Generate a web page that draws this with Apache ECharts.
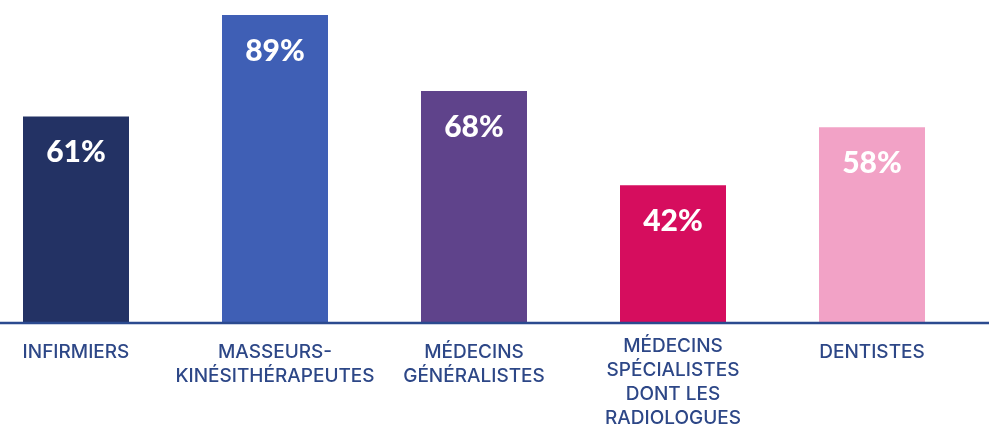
<!DOCTYPE html>
<html><head><meta charset="utf-8">
<script src="https://cdn.jsdelivr.net/npm/echarts@6/dist/echarts.min.js"></script>
<style>html,body{margin:0;padding:0;background:#fff}#c{width:989px;height:428px}</style>
</head><body><div id="c"></div>
<script>
const categories = ['INFIRMIERS', 'MASSEURS-\nKINÉSITHÉRAPEUTES', 'MÉDECINS\nGÉNÉRALISTES', 'MÉDECINS\nSPÉCIALISTES\nDONT LES\nRADIOLOGUES', 'DENTISTES'];
const values = [61, 89, 68, 42, 58];
const colors = ['#233264', '#3f5fb5', '#5f438b', '#d60d5e', '#f2a2c6'];

const chart = echarts.init(document.getElementById('c'));
chart.setOption({
  animation: false,
  grid: { left: -23.5, right: 17.5, top: 15, bottom: 105, containLabel: false, outerBoundsMode: 'none' },
  xAxis: {
    type: 'category',
    data: categories.map(c => c.split('\n').length > 3
      ? { value: c, textStyle: { lineHeight: 24, padding: [-6, 0, 0, 0] } }
      : c),
    axisLine: { show: false },
    axisTick: { show: false },
    axisLabel: {
      interval: 0, color: '#2d4787', fontFamily: 'Inter', fontWeight: 500,
      fontSize: 19, lineHeight: 24, margin: 17, hideOverlap: false
    }
  },
  yAxis: { type: 'value', min: 4, max: 89, show: false, splitLine: { show: false } },
  series: [{
    type: 'bar',
    barWidth: 106,
    data: values.map((v, i) => ({ value: v, itemStyle: { color: colors[i] } })),
    label: {
      show: true, position: 'insideTop', distance: 21,
      formatter: '{c}%', color: '#fff', fontFamily: 'Lato', fontWeight: 900, fontSize: 30
    }
  }]
});
const y = chart.convertToPixel({ yAxisIndex: 0 }, 4);
chart.setOption({
  graphic: [{
    type: 'line', z: 100,
    shape: { x1: 0, y1: y, x2: 989, y2: y },
    style: { stroke: '#2b4a8f', lineWidth: 2.5 }
  }]
});
</script></body></html>
